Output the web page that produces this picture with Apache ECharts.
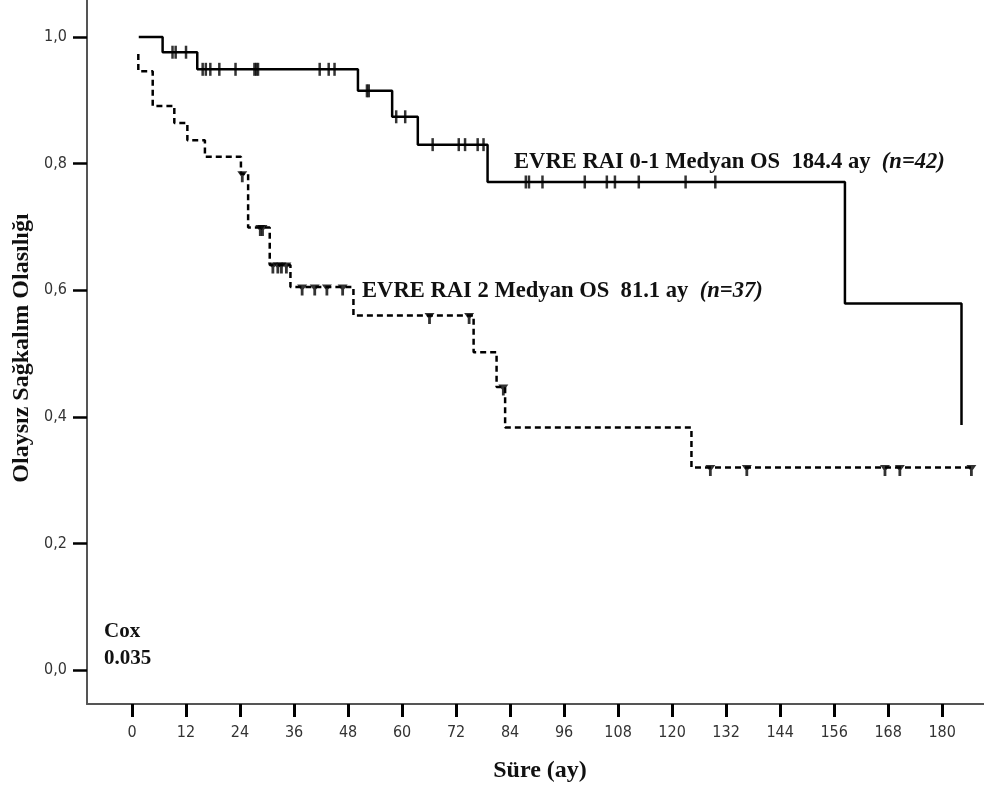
<!DOCTYPE html>
<html>
<head>
<meta charset="utf-8">
<script src="https://cdn.jsdelivr.net/npm/echarts@6/dist/echarts.min.js"></script>
<style>
  html, body { margin: 0; padding: 0; background: #fff; }
  #chart { width: 984px; height: 791px; }
</style>
</head>
<body>
<div id="chart"></div>
<script>
// tick values
const xTicks = [0, 12, 24, 36, 48, 60, 72, 84, 96, 108, 120, 132, 144, 156, 168, 180];
const yTicks = [0, 0.2, 0.4, 0.6, 0.8, 1.0];

// EVRE RAI 0-1 (solid): step points (time, survival after the step)
const raiLowTimes = [1.5, 6.8, 14.5, 50.2, 57.8, 63.5, 79.0, 158.4, 184.3];
const raiLowSurv = [1.0, 0.976, 0.949, 0.915, 0.874, 0.830, 0.771, 0.579, 0.387];
const raiLowCensor = [9.0, 9.7, 12.0, 15.7, 16.4, 17.4, 19.4, 23.0, 27.2, 27.6, 28.0,
  41.7, 43.7, 45.0, 52.2, 52.6, 58.7, 60.7, 66.8, 72.6, 74.0, 76.8, 78.1,
  87.5, 88.2, 91.2, 100.6, 105.5, 107.3, 112.6, 123.0, 129.6];

// EVRE RAI 2 (dashed)
const raiHighTimes = [1.4, 1.4, 4.6, 9.4, 12.3, 16.2, 24.2, 25.8, 30.6, 35.2, 49.2, 75.9, 81.0, 82.9, 124.3, 187.0];
const raiHighSurv = [0.973, 0.946, 0.891, 0.864, 0.837, 0.811, 0.784, 0.699, 0.640, 0.605, 0.560, 0.502, 0.447, 0.383, 0.320, 0.320];
const raiHighCensor = [24.5, 28.5, 29.0, 31.3, 32.4, 33.2, 34.3, 37.8, 40.6, 43.3, 46.8,
  66.1, 74.9, 82.5, 128.5, 136.6, 167.3, 170.6, 186.5];

function steps(times, surv) {
  return times.map((t, i) => [t, surv[i]]);
}

// survival level at time t, read from the step arrays
function censorPoints(censor, times, surv) {
  return censor.map(t => {
    let s = surv[0];
    for (let i = 0; i < times.length; i++) {
      if (times[i] <= t) s = surv[i];
    }
    return [t, s];
  });
}

const serif = '"Liberation Serif", "DejaVu Serif", serif';
const tickFont = '"DejaVu Sans Condensed", "DejaVu Sans", sans-serif';

const chart = echarts.init(document.getElementById('chart'));
chart.setOption({
  animation: false,
  backgroundColor: '#fff',
  grid: { left: 87, right: 0, top: 0, bottom: 87 },
  xAxis: {
    type: 'value',
    min: -10,
    max: 189.3,
    splitLine: { show: false },
    axisLine: { onZero: false, lineStyle: { color: '#555', width: 2 } },
    axisTick: { customValues: xTicks, length: 13, lineStyle: { color: '#000', width: 3 } },
    axisLabel: { customValues: xTicks, margin: 21, color: '#333', fontSize: 16, fontFamily: tickFont }
  },
  yAxis: {
    type: 'value',
    min: -0.0537,
    max: 1.0585,
    splitLine: { show: false },
    axisLine: { show: true, onZero: false, lineStyle: { color: '#555', width: 2 } },
    axisTick: { show: true, customValues: yTicks, length: 14, lineStyle: { color: '#000', width: 2.5 } },
    axisLabel: {
      customValues: yTicks, margin: 20, color: '#333', fontSize: 16, fontFamily: tickFont,
      formatter: v => v.toFixed(1).replace('.', ',')
    }
  },
  series: [
    {
      type: 'line',
      step: 'end',
      data: steps(raiLowTimes, raiLowSurv),
      symbol: 'none',
      lineStyle: { color: '#000', width: 2.5 }
    },
    {
      type: 'line',
      step: 'end',
      data: steps(raiHighTimes, raiHighSurv),
      symbol: 'none',
      lineStyle: { color: '#000', width: 2.5, type: [6, 4] }
    },
    {
      type: 'scatter',
      data: censorPoints(raiLowCensor, raiLowTimes, raiLowSurv),
      symbol: 'rect',
      symbolSize: [2.5, 13],
      itemStyle: { color: '#000' },
      z: 5
    },
    {
      type: 'scatter',
      data: censorPoints(raiHighCensor, raiHighTimes, raiHighSurv),
      symbol: 'path://M0,0L10,0L5,7ZM3.6,5L6.4,5L6.4,11L3.6,11Z',
      symbolSize: [10, 11],
      symbolOffset: [0, 3],
      itemStyle: { color: '#000' },
      z: 5
    }
  ],
  graphic: [
    {
      type: 'text', x: 514, y: 162,
      style: {
        text: '{b|EVRE RAI 0-1 Medyan OS  184.4 ay  }{i|(n=42)}',
        verticalAlign: 'middle',
        rich: {
          b: { font: 'bold 22.6px ' + serif, fill: '#111' },
          i: { font: 'italic bold 22.6px ' + serif, fill: '#111' }
        }
      }
    },
    {
      type: 'text', x: 362, y: 291,
      style: {
        text: '{b|EVRE RAI 2 Medyan OS  81.1 ay  }{i|(n=37)}',
        verticalAlign: 'middle',
        rich: {
          b: { font: 'bold 22.6px ' + serif, fill: '#111' },
          i: { font: 'italic bold 22.6px ' + serif, fill: '#111' }
        }
      }
    },
    {
      type: 'text', x: 104, y: 632,
      style: { text: 'Cox', font: 'bold 21px ' + serif, fill: '#111', verticalAlign: 'middle' }
    },
    {
      type: 'text', x: 104, y: 659,
      style: { text: '0.035', font: 'bold 21px ' + serif, fill: '#111', verticalAlign: 'middle' }
    },
    {
      type: 'text', x: 22, y: 348, rotation: Math.PI / 2,
      style: {
        text: 'Olaysız Sağkalım Olasılığı', font: 'bold 24px ' + serif, fill: '#111',
        align: 'center', verticalAlign: 'middle'
      }
    },
    {
      type: 'text', x: 540, y: 771,
      style: {
        text: 'Süre (ay)', font: 'bold 24px ' + serif, fill: '#111',
        align: 'center', verticalAlign: 'middle'
      }
    }
  ]
});
</script>
</body>
</html>
